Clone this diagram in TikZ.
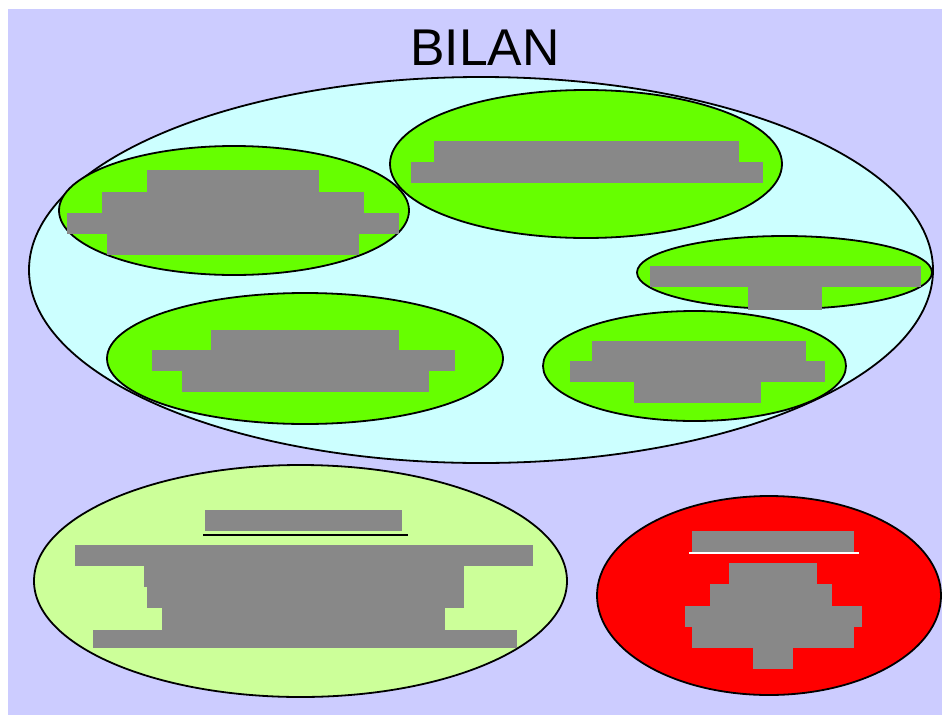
\documentclass[tikz,border=0pt]{standalone}
\usepackage{fontspec}
\setmainfont{Liberation Sans}
\usetikzlibrary{shapes.geometric}
\definecolor{lavender}{HTML}{CCCCFF}
\definecolor{paleCyan}{HTML}{CCFFFF}
\definecolor{brightGreen}{HTML}{66FF00}
\definecolor{paleGreen}{HTML}{CCFF99}
\definecolor{blockGray}{HTML}{888888}
\tikzset{
  oval/.style={ellipse, draw=black, line width=1.8pt, inner sep=0pt},
  blk/.style={fill=blockGray},
}
\begin{document}
\begin{tikzpicture}[x=1pt,y=-1pt]
  % page and background
  \useasboundingbox (0,0) rectangle (942,715);
  \fill[white] (0,0) rectangle (942,715);
  \fill[lavender] (8,9) rectangle (942,715);

  % title
  \node[font=\fontsize{51.7}{60}\selectfont, inner sep=0pt, anchor=base] (title) at (485,65) {BILAN};

  % large enclosing oval
  \node[oval, fill=paleCyan, minimum width=904pt, minimum height=386pt] (bilan) at (481,270) {};

  % inner ovals
  \node[oval, fill=brightGreen, minimum width=350pt, minimum height=129pt] (g1) at (234,210.5) {};
  \node[oval, fill=brightGreen, minimum width=392pt, minimum height=148pt] (g2) at (586,164) {};
  \node[oval, fill=brightGreen, minimum width=295pt, minimum height=73pt] (g3) at (784.5,272.5) {};
  \node[oval, fill=brightGreen, minimum width=396pt, minimum height=131pt] (g4) at (305,358.5) {};
  \node[oval, fill=brightGreen, minimum width=303pt, minimum height=110pt] (g5) at (694.5,366) {};

  % lower ovals
  \node[oval, fill=paleGreen, minimum width=533pt, minimum height=232pt] (lg) at (300.5,581) {};
  \node[oval, fill=red, minimum width=344pt, minimum height=199pt] (rd) at (769,595.5) {};

  % blocks in g1
  \fill[blk] (147,170) rectangle (319,192);
  \fill[blk] (102,192) rectangle (364,213);
  \fill[blk] (67,213) rectangle (399,234);
  \fill[blk] (107,234) rectangle (359,255);

  % blocks in g2
  \fill[blk] (434,141) rectangle (739,162);
  \fill[blk] (411,162) rectangle (763,183);

  % blocks in g3
  \fill[blk] (650,266) rectangle (921,287);
  \fill[blk] (748,287) rectangle (822,310);

  % blocks in g4
  \fill[blk] (211,330) rectangle (399,350);
  \fill[blk] (152,350) rectangle (455,371);
  \fill[blk] (182,371) rectangle (429,392);

  % blocks in g5
  \fill[blk] (592,341) rectangle (806,361);
  \fill[blk] (570,361) rectangle (825,382);
  \fill[blk] (634,382) rectangle (761,403);

  % blocks in lg
  \fill[blk] (205,510) rectangle (402,531);
  \draw[line width=2pt] (203,535) -- (408,535);
  \fill[blk] (74.5,545) rectangle (533,566);
  \fill[blk] (144,566) rectangle (464,587);
  \fill[blk] (147,587) rectangle (464,608);
  \fill[blk] (162,608) rectangle (445,630);
  \fill[blk] (93,630) rectangle (516.5,648);

  % blocks in rd
  \fill[blk] (692,531) rectangle (854,552);
  \draw[white, line width=2pt] (689,553) -- (859,553);
  \fill[blk] (729,563) rectangle (817,584);
  \fill[blk] (710,584) rectangle (832,606);
  \fill[blk] (685,606) rectangle (862,627);
  \fill[blk] (692,627) rectangle (854,648);
  \fill[blk] (753,648) rectangle (793,669);
\end{tikzpicture}
\end{document}
